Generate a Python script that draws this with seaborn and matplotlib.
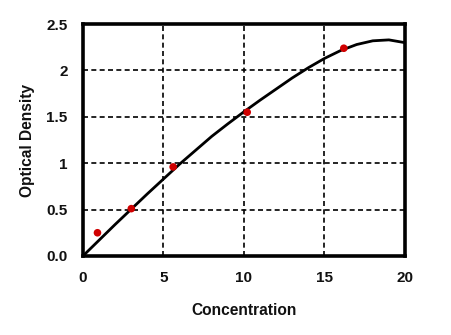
import matplotlib
matplotlib.use("Agg")
import matplotlib.pyplot as plt
import seaborn as sns
import pandas as pd

# Standard samples: concentration vs measured optical density
conc = [0.9, 3.0, 5.6, 10.2, 16.2]
od = [0.25, 0.51, 0.96, 1.55, 2.24]

# Standard curve read at each unit of concentration
curve_x = [0, 1, 2, 3, 4, 5, 6, 7, 8, 9, 10, 11, 12, 13, 14, 15, 16, 17, 18, 19, 20]
curve_y = [0.0, 0.17, 0.34, 0.505, 0.67, 0.83, 0.99, 1.14, 1.29, 1.425, 1.555,
           1.68, 1.80, 1.92, 2.03, 2.13, 2.215, 2.28, 2.32, 2.33, 2.30]

x_ticks = [0, 5, 10, 15, 20]
x_tick_labels = ["0", "5", "10", "15", "20"]
y_ticks = [0.0, 0.5, 1.0, 1.5, 2.0, 2.5]
y_tick_labels = ["0.0", "0.5", "1", "1.5", "2", "2.5"]

sns.set_style("white")
plt.rcParams["font.family"] = ["Liberation Sans", "DejaVu Sans"]

fig = plt.figure(figsize=(4.51, 3.35), dpi=100)
ax = fig.add_axes([0.184, 0.236, 0.714, 0.692])

curve = pd.DataFrame({"x": curve_x, "y": curve_y})
pts = pd.DataFrame({"x": conc, "y": od})

sns.lineplot(data=curve, x="x", y="y", ax=ax, color="black", linewidth=2.0, zorder=3)
sns.scatterplot(data=pts, x="x", y="y", ax=ax, color="#d00000", s=30,
                edgecolor="none", zorder=4)

ax.set_xlim(0, 20)
ax.set_ylim(0, 2.5)
ax.set_xticks(x_ticks)
ax.set_xticklabels(x_tick_labels, fontweight="bold")
ax.set_yticks(y_ticks)
ax.set_yticklabels(y_tick_labels, fontweight="bold")
ax.tick_params(axis="both", length=0, labelsize=11, colors="#111111")
ax.tick_params(axis="x", pad=11)
ax.tick_params(axis="y", pad=11)

ax.grid(True, color="black", linestyle=(0, (3, 2)), linewidth=1.2)
for s in ax.spines.values():
    s.set_color("black")
    s.set_linewidth(2.6)
    s.set_visible(True)

ax.set_xlabel("Concentration", fontsize=11.2, fontweight="bold", labelpad=13,
              color="#111111")
ax.set_ylabel("Optical Density", fontsize=11.2, fontweight="bold", labelpad=8,
              color="#111111")

fig.savefig("out.png", dpi=100)
